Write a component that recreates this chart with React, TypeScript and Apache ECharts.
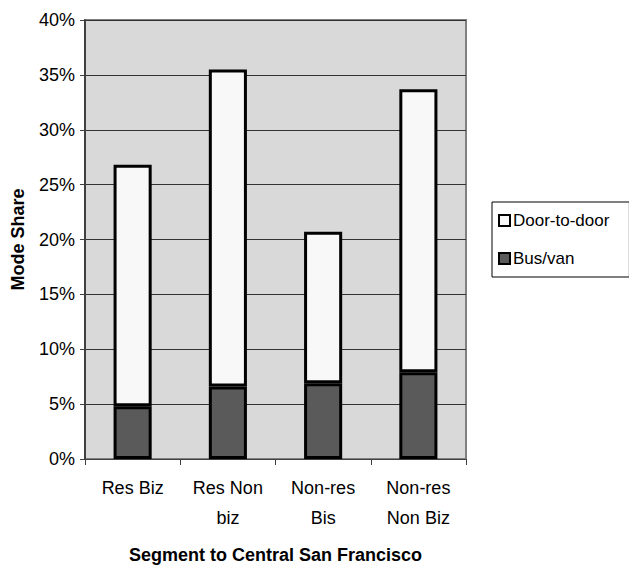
import React, { useEffect, useRef } from "react";
import * as echarts from "echarts";

const categories = ["Res Biz", "Res Non\nbiz", "Non-res\nBis", "Non-res\nNon Biz"];
const busVan = [4.8, 6.6, 6.9, 7.9];
const doorToDoor = [22.0, 28.9, 13.8, 25.8];
const seriesNames = ["Door-to-door", "Bus/van"];
const yTicks = { min: 0, max: 40, interval: 5 };

export default function App() {
  const ref = useRef<HTMLDivElement>(null);
  useEffect(() => {
    if (!ref.current) return;
    const chart = echarts.init(ref.current, null, { renderer: "svg" });
    const font = "'Liberation Sans', Arial, sans-serif";
    chart.setOption({
      animation: false,
      backgroundColor: "#ffffff",
      textStyle: { fontFamily: font, color: "#000" },
      grid: {
        left: 85,
        right: 163,
        top: 20,
        bottom: 110,
        show: true,
        backgroundColor: "#d9d9d9",
        borderColor: "#808080",
        borderWidth: 2,
      },
      legend: {
        data: seriesNames,
        orient: "vertical",
        left: 492,
        top: 202,
        padding: [10, 20, 10, 6],
        itemGap: 21,
        itemWidth: 11,
        itemHeight: 11,
        icon: "rect",
        borderColor: "#000",
        borderWidth: 1,
        itemStyle: { borderWidth: 2, borderColor: "#000" },
        textStyle: { fontFamily: font, fontSize: 17, color: "#000", padding: [0, 0, 0, -2] },
      },
      xAxis: {
        type: "category",
        data: categories,
        name: "Segment to Central San Francisco",
        nameLocation: "middle",
        nameGap: 87,
        nameTextStyle: { fontFamily: font, fontSize: 18, fontWeight: "bold", color: "#000" },
        axisLine: { lineStyle: { color: "#404040", width: 1 } },
        axisTick: { show: true, length: 6, lineStyle: { color: "#404040" } },
        axisLabel: { fontFamily: font, fontSize: 18, lineHeight: 30, margin: 14, color: "#000" },
      },
      yAxis: {
        type: "value",
        min: yTicks.min,
        max: yTicks.max,
        interval: yTicks.interval,
        name: "Mode Share",
        nameLocation: "middle",
        nameGap: 58,
        nameTextStyle: { fontFamily: font, fontSize: 18, fontWeight: "bold", color: "#000" },
        axisLine: { show: true, lineStyle: { color: "#404040", width: 2 } },
        axisTick: { show: true, length: 5, lineStyle: { color: "#404040" } },
        axisLabel: { fontFamily: font, fontSize: 18, margin: 10, color: "#000", formatter: "{value}%" },
        splitLine: { show: true, lineStyle: { color: "#333", width: 1 } },
      },
      series: [
        {
          name: "Bus/van",
          type: "bar",
          stack: "total",
          data: busVan,
          barWidth: "40%",
          itemStyle: { color: "#5a5a5a", borderColor: "#000", borderWidth: 3 },
        },
        {
          name: "Door-to-door",
          type: "bar",
          stack: "total",
          data: doorToDoor,
          barWidth: "40%",
          itemStyle: { color: "#f8f8f8", borderColor: "#000", borderWidth: 3 },
        },
      ],
    });
    return () => chart.dispose();
  }, []);
  return <div ref={ref} style={{ width: 629, height: 569, position: "absolute", left: 0, top: 0 }} />;
}
